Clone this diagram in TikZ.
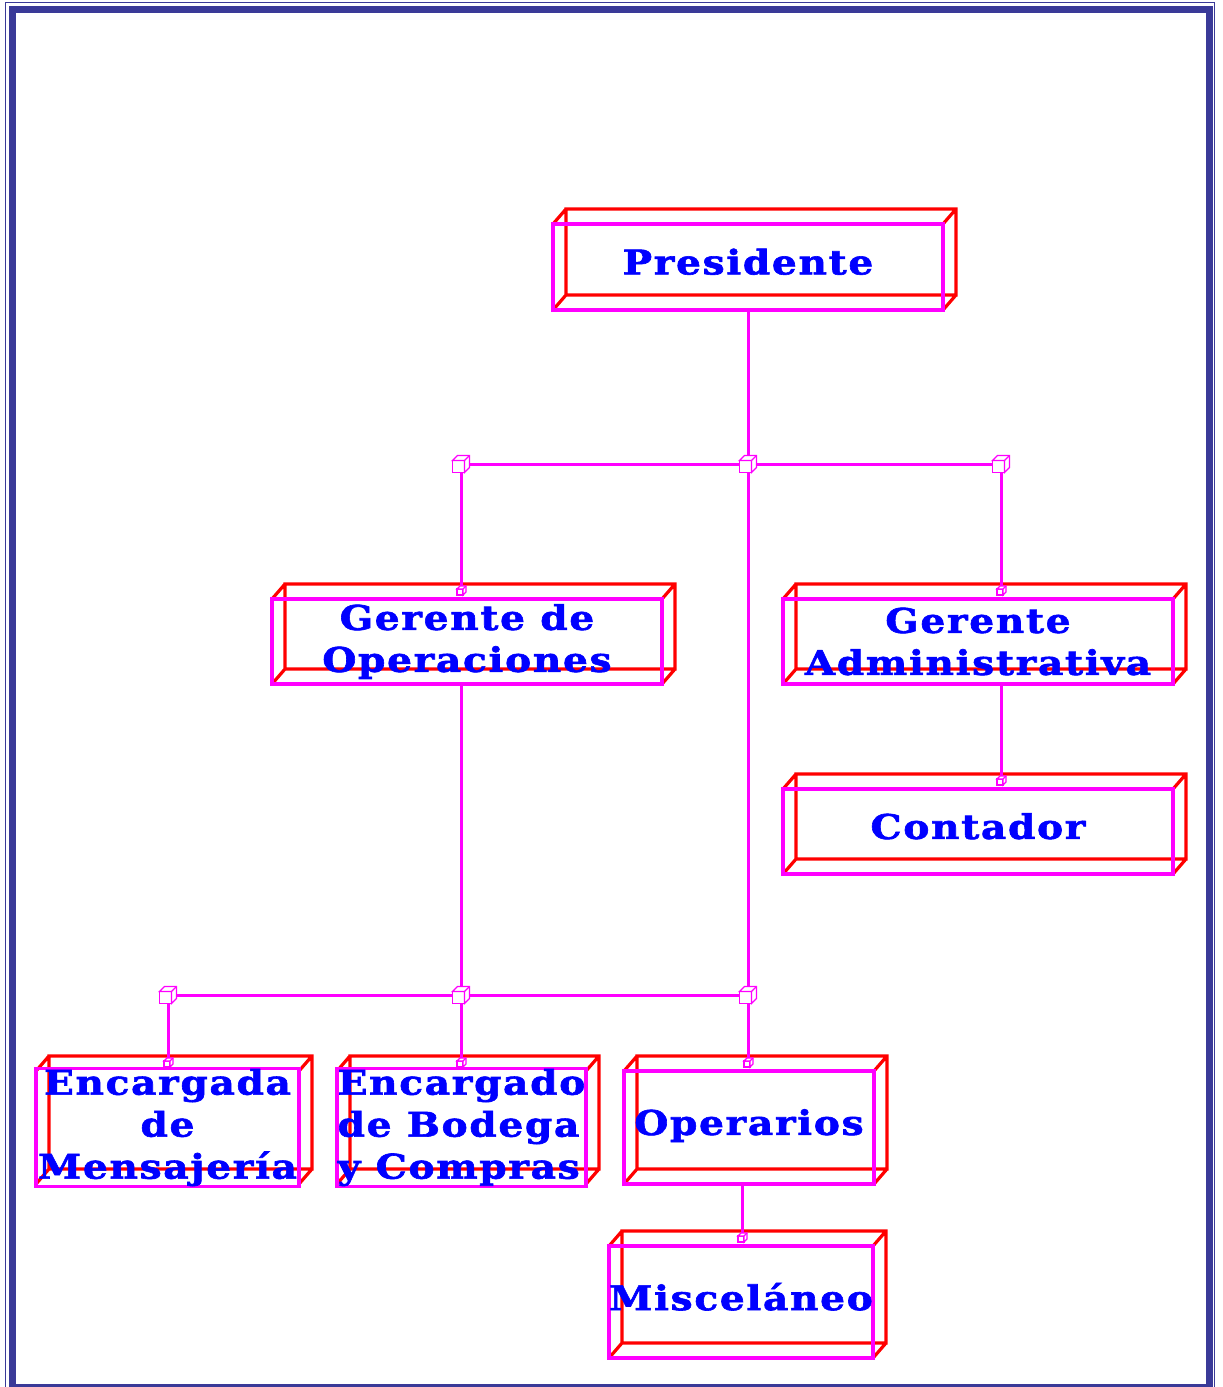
\documentclass[tikz,border=0pt]{standalone}
\usepackage{fontspec}
\newfontfamily\lblfont[LetterSpace=5,FakeStretch=1.15,FakeBold=1.8]{DejaVu Serif}
\definecolor{bordc}{RGB}{58,58,152}
\definecolor{mag}{RGB}{255,0,255}
\definecolor{txtc}{RGB}{0,0,255}
\tikzset{
  frontbox/.style={draw=mag, line width=3.2pt, rectangle, inner sep=0pt, text=txtc,
    font=\lblfont\bfseries\fontsize{34}{42}\selectfont},
  backedge/.style={draw=red, line width=3.2pt},
  conn/.style={draw=mag, line width=3pt},
  cubeline/.style={draw=mag, line width=1.3pt, fill=white},
  bordthin/.style={draw=bordc, line width=1.6pt},
  bordthick/.style={draw=bordc, line width=7pt},
}
% name, x1, y1, x2, y2 (front face, pixel coords, y down), text
\newcommand\tribox[7][center]{%
  \draw[backedge] (#3+13,#4-15) rectangle (#5+13,#6-15)
    (#3,#4) -- (#3+13,#4-15) (#5,#4) -- (#5+13,#4-15)
    (#5,#6) -- (#5+13,#6-15) (#3,#6) -- (#3+13,#6-15);
  \node[frontbox, align=#1, minimum width={(#5-#3)*1pt}, minimum height={(#6-#4)*1pt}]
    (#2) at ({(#3+#5)/2},{(#4+#6)/2}) {#7};
}
% front top-left corner (a,b), size s, depth d
\newcommand\cubeat[4]{%
  \filldraw[cubeline] (#1,#2) rectangle ++(#3,#3);
  \filldraw[cubeline] (#1,#2) -- ++(#4,-#4) -- ++(#3,0) -- ++(0,#3) -- ++(-#4,#4) -- ++(0,-#3) -- cycle;
  \draw[cubeline] (#1+#3,#2) -- ++(#4,-#4);
}
\newcommand\jcube[2]{\cubeat{#1-8.5}{#2-3.5}{12}{5}}
\newcommand\ecube[2]{\cubeat{#1-4}{#2+3}{6}{3}}
\newcommand\up[1]{\raisebox{11pt}{#1}}
\begin{document}
\begin{tikzpicture}[x=1pt,y=-1pt]
\useasboundingbox (0,0) rectangle (1223,1387);
% page border
\draw[bordthin] (5.5,2.5) rectangle (1214.5,1395);
\draw[bordthick] (12.5,9) rectangle (1209,1387.5);

% boxes
\tribox{pres}{553}{224}{943}{310}{\up{Presidente}}
\tribox{gops}{272}{599}{662}{684}{Gerente de\\Operaciones}
\tribox{gadm}{783}{599}{1173}{684}{Gerente\\Administrativa}
\tribox{cont}{783}{789}{1173}{874}{\up{Contador}}
\tribox{enc}{36}{1071}{299}{1184}{Encargada\\de\\Mensajería}
\tribox[left]{bod}{337}{1071}{586}{1184}{Encargado\\de Bodega\\y Compras}
\tribox{oper}{624}{1071}{874}{1184}{\up{Operarios}}
\tribox{misc}{609}{1246}{873}{1358}{\up{Misceláneo}}

% junctions and connector ends
\coordinate (j1) at (748,464);
\coordinate (j2) at (461,464);
\coordinate (j3) at (1001,464);
\coordinate (j4) at (168,995);
\coordinate (j5) at (461,995);
\coordinate (j6) at (748,995);
\coordinate (egops) at (461,586);
\coordinate (egadm) at (1001,586);
\coordinate (econt) at (1001,776);
\coordinate (eenc) at (168,1058);
\coordinate (ebod) at (461,1058);
\coordinate (eoper) at (748,1058);
\coordinate (emisc) at (742,1233);

% connectors
\draw[conn] (pres.south -| j1) -- (j1);
\draw[conn] (j2) -- (j3);
\draw[conn] (j2) -- (egops);
\draw[conn] (j3) -- (egadm);
\draw[conn] (j1) -- (j6);
\draw[conn] (gops.south -| j5) -- (j5);
\draw[conn] (j4) -- (j6);
\draw[conn] (j4) -- (eenc);
\draw[conn] (j5) -- (ebod);
\draw[conn] (j6) -- (eoper);
\draw[conn] (gadm.south -| econt) -- (econt);
\draw[conn] (oper.south -| emisc) -- (emisc);

% cubes
\jcube{748}{464}
\jcube{461}{464}
\jcube{1001}{464}
\jcube{168}{995}
\jcube{461}{995}
\jcube{748}{995}
\ecube{461}{586}
\ecube{1001}{586}
\ecube{1001}{776}
\ecube{168}{1058}
\ecube{461}{1058}
\ecube{748}{1058}
\ecube{742}{1233}
\end{tikzpicture}
\end{document}
